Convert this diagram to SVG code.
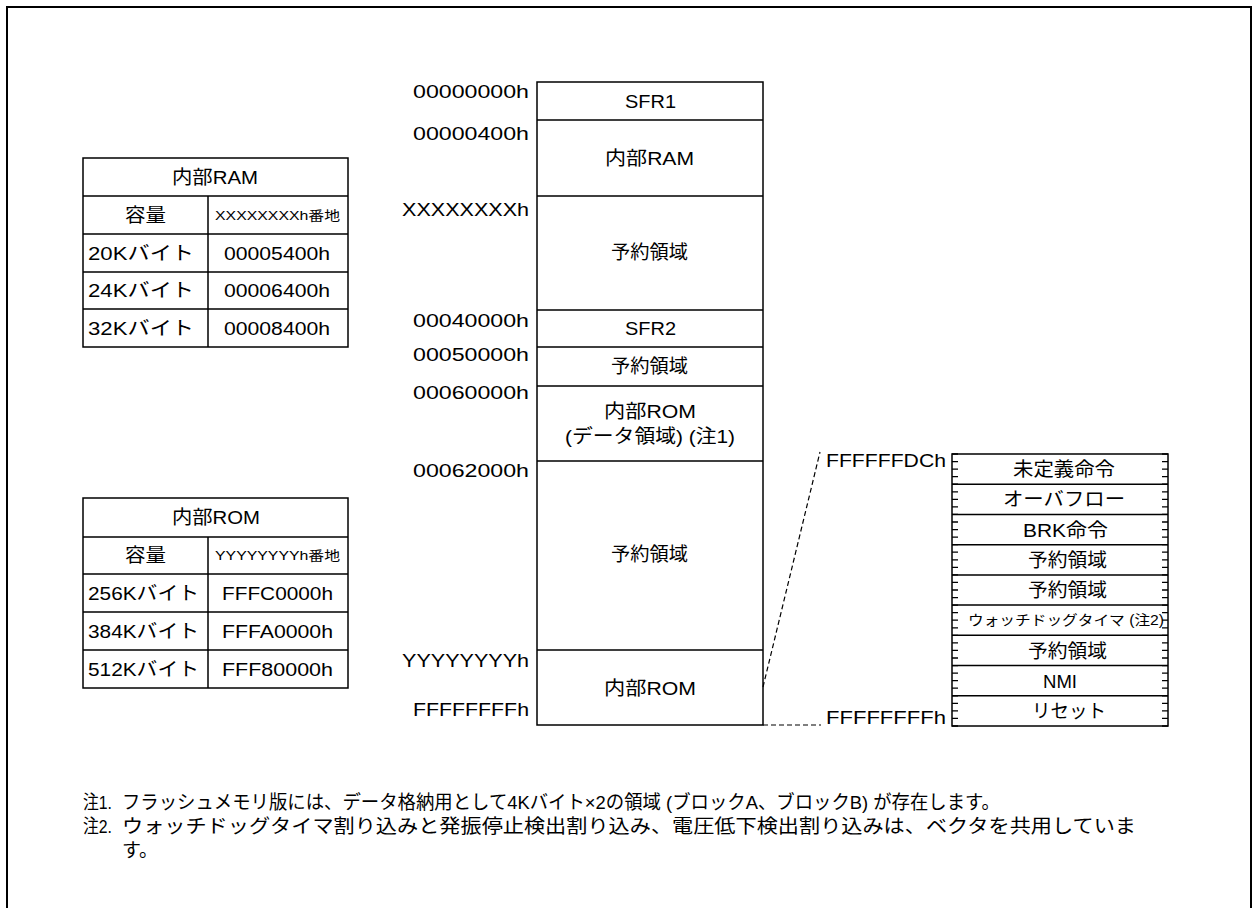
<svg xmlns="http://www.w3.org/2000/svg" width="1255" height="908" viewBox="0 0 1255 908">
<style>
text{font-family:"Liberation Sans","Noto Sans CJK JP",sans-serif;font-size:19px;fill:#000}
.s{font-size:13px}
.s2{font-size:14px}
.box{fill:#fff;stroke:#000;stroke-width:1.5}
.ln{stroke:#000;stroke-width:1.5;fill:none}
.dash{stroke:#000;stroke-width:1.2;fill:none;stroke-dasharray:5 3}
.tick{stroke:#000;stroke-width:6;fill:none;stroke-dasharray:1.3 6.2556}
</style>
<path d="M7,908 V7 H1251 V908" fill="none" stroke="#000" stroke-width="2"/>

<g id="ram-table">
<rect class="box" x="83" y="158" width="265" height="189"/>
<path class="ln" d="M83,196 H348 M83,234 H348 M83,272 H348 M83,309 H348 M208,196 V347"/>
<text x="172" y="184" textLength="86" lengthAdjust="spacingAndGlyphs">内部RAM</text>
<text x="125" y="222" textLength="41" lengthAdjust="spacingAndGlyphs">容量</text>
<text class="s" x="215" y="220" textLength="125" lengthAdjust="spacingAndGlyphs">XXXXXXXXh番地</text>
<text x="88" y="260" textLength="106" lengthAdjust="spacingAndGlyphs">20Kバイト</text>
<text x="224" y="260" textLength="106" lengthAdjust="spacingAndGlyphs">00005400h</text>
<text x="88" y="297" textLength="106" lengthAdjust="spacingAndGlyphs">24Kバイト</text>
<text x="224" y="297" textLength="106" lengthAdjust="spacingAndGlyphs">00006400h</text>
<text x="88" y="335" textLength="106" lengthAdjust="spacingAndGlyphs">32Kバイト</text>
<text x="224" y="335" textLength="106" lengthAdjust="spacingAndGlyphs">00008400h</text>
</g>

<g id="rom-table">
<rect class="box" x="83" y="498" width="265" height="190"/>
<path class="ln" d="M83,537 H348 M83,574 H348 M83,612 H348 M83,650 H348 M208,537 V688"/>
<text x="172" y="524" textLength="88" lengthAdjust="spacingAndGlyphs">内部ROM</text>
<text x="125" y="562" textLength="41" lengthAdjust="spacingAndGlyphs">容量</text>
<text class="s" x="215" y="560" textLength="125" lengthAdjust="spacingAndGlyphs">YYYYYYYYh番地</text>
<text x="88" y="600" textLength="111" lengthAdjust="spacingAndGlyphs">256Kバイト</text>
<text x="222" y="600" textLength="111" lengthAdjust="spacingAndGlyphs">FFFC0000h</text>
<text x="88" y="638" textLength="111" lengthAdjust="spacingAndGlyphs">384Kバイト</text>
<text x="222" y="638" textLength="111" lengthAdjust="spacingAndGlyphs">FFFA0000h</text>
<text x="88" y="676" textLength="111" lengthAdjust="spacingAndGlyphs">512Kバイト</text>
<text x="222" y="676" textLength="111" lengthAdjust="spacingAndGlyphs">FFF80000h</text>
</g>

<g id="memory-map">
<rect class="box" x="537" y="82" width="226" height="643"/>
<path class="ln" d="M537,120 H763 M537,196 H763 M537,310 H763 M537,347 H763 M537,386 H763 M537,461 H763 M537,650 H763"/>
<text x="625" y="108" textLength="51" lengthAdjust="spacingAndGlyphs">SFR1</text>
<text x="605" y="165" textLength="89" lengthAdjust="spacingAndGlyphs">内部RAM</text>
<text x="611" y="259" textLength="77" lengthAdjust="spacingAndGlyphs">予約領域</text>
<text x="625" y="335" textLength="51" lengthAdjust="spacingAndGlyphs">SFR2</text>
<text x="611" y="373" textLength="77" lengthAdjust="spacingAndGlyphs">予約領域</text>
<text x="604" y="418" textLength="92" lengthAdjust="spacingAndGlyphs">内部ROM</text>
<text x="565" y="443" textLength="170" lengthAdjust="spacingAndGlyphs">(データ領域) (注1)</text>
<text x="611" y="561" textLength="77" lengthAdjust="spacingAndGlyphs">予約領域</text>
<text x="604" y="695" textLength="92" lengthAdjust="spacingAndGlyphs">内部ROM</text>
</g>

<g id="map-addresses">
<text x="413" y="98" textLength="116" lengthAdjust="spacingAndGlyphs">00000000h</text>
<text x="413" y="140" textLength="116" lengthAdjust="spacingAndGlyphs">00000400h</text>
<text x="402" y="216" textLength="127" lengthAdjust="spacingAndGlyphs">XXXXXXXXh</text>
<text x="413" y="327" textLength="116" lengthAdjust="spacingAndGlyphs">00040000h</text>
<text x="413" y="361" textLength="116" lengthAdjust="spacingAndGlyphs">00050000h</text>
<text x="413" y="399" textLength="116" lengthAdjust="spacingAndGlyphs">00060000h</text>
<text x="413" y="477" textLength="116" lengthAdjust="spacingAndGlyphs">00062000h</text>
<text x="402" y="667" textLength="127" lengthAdjust="spacingAndGlyphs">YYYYYYYYh</text>
<text x="413" y="716" textLength="116" lengthAdjust="spacingAndGlyphs">FFFFFFFFh</text>
</g>

<g id="connectors">
<path class="dash" d="M763,687 L820,452"/>
<path class="dash" d="M763,725 H821"/>
</g>

<g id="vector-table">
<rect class="box" x="952" y="454" width="216" height="272"/>
<path class="ln" d="M952,484.2 H1168 M952,514.4 H1168 M952,544.7 H1168 M952,574.9 H1168 M952,605.1 H1168 M952,635.3 H1168 M952,665.6 H1168 M952,695.8 H1168"/>
<path class="tick" d="M955,453.35 V726.65 M1165,453.35 V726.65"/>
<text x="1013" y="476" textLength="102" lengthAdjust="spacingAndGlyphs">未定義命令</text>
<text x="1003" y="506" textLength="122" lengthAdjust="spacingAndGlyphs">オーバフロー</text>
<text x="1023" y="536.5" textLength="85" lengthAdjust="spacingAndGlyphs">BRK命令</text>
<text x="1028" y="567" textLength="79" lengthAdjust="spacingAndGlyphs">予約領域</text>
<text x="1028" y="597" textLength="79" lengthAdjust="spacingAndGlyphs">予約領域</text>
<text class="s2" x="968" y="625" textLength="196" lengthAdjust="spacingAndGlyphs">ウォッチドッグタイマ (注2)</text>
<text x="1028" y="657.5" textLength="79" lengthAdjust="spacingAndGlyphs">予約領域</text>
<text x="1043" y="687.5" textLength="34" lengthAdjust="spacingAndGlyphs">NMI</text>
<text x="1032" y="718" textLength="74" lengthAdjust="spacingAndGlyphs">リセット</text>
<text x="826" y="467" textLength="120" lengthAdjust="spacingAndGlyphs">FFFFFFDCh</text>
<text x="826" y="724" textLength="120" lengthAdjust="spacingAndGlyphs">FFFFFFFFh</text>
</g>

<g id="notes">
<text x="83" y="809" textLength="29" lengthAdjust="spacingAndGlyphs">注1.</text>
<text x="122" y="809" textLength="878" lengthAdjust="spacingAndGlyphs">フラッシュメモリ版には、データ格納用として4Kバイト×2の領域 (ブロックA、ブロックB) が存在します。</text>
<text x="83" y="833" textLength="29" lengthAdjust="spacingAndGlyphs">注2.</text>
<text x="122" y="833" textLength="1014" lengthAdjust="spacingAndGlyphs">ウォッチドッグタイマ割り込みと発振停止検出割り込み、電圧低下検出割り込みは、ベクタを共用していま</text>
<text x="122" y="857">す。</text>
</g>
</svg>
